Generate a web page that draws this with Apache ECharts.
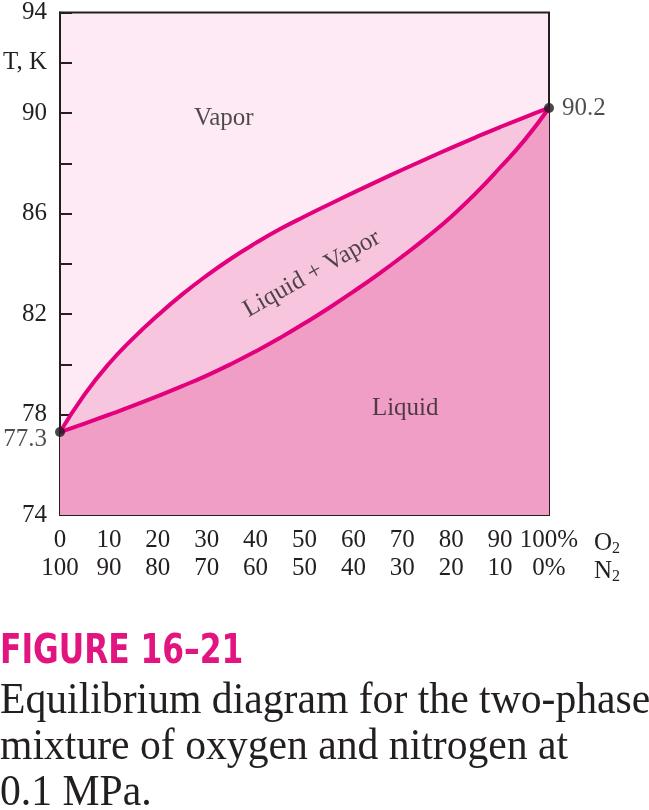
<!DOCTYPE html>
<html><head><meta charset="utf-8">
<script src="https://cdn.jsdelivr.net/npm/echarts@6/dist/echarts.min.js"></script>
<style>html,body{margin:0;padding:0;background:#fff}#c{width:649px;height:810px}</style>
</head><body><div id="c"></div>
<script>
// Composition, % O2 (same grid for both curves)
const compX = [0, 5, 10, 15, 20, 25, 30, 35, 40, 45, 50, 55, 60, 65, 70, 75, 80, 85, 90, 95, 100];
// Dew (vapor) line T, K
const dewT = [77.3, 78.79, 80.02, 81.04, 81.95, 82.78, 83.53, 84.21, 84.82, 85.38, 85.88, 86.36, 86.83, 87.29, 87.74, 88.18, 88.61, 89.03, 89.44, 89.83, 90.2];
// Bubble (liquid) line T, K
const bubT = [77.3, 77.64, 77.99, 78.35, 78.73, 79.13, 79.55, 80.01, 80.51, 81.05, 81.63, 82.24, 82.89, 83.57, 84.29, 85.05, 85.87, 86.8, 87.83, 88.92, 90.2];
// Pure-component boiling points
const endX = [0, 100];
const endT = [77.3, 90.2];
const endLabels = ['77.3', '90.2'];
// Region labels
const regionNames = ['Vapor', 'Liquid + Vapor', 'Liquid'];
const regionX = [33.5, 51.5, 70.6];
const regionT = [89.8, 83.6, 78.25];
// Axis ticks
const yMin = 74, yMax = 94, yStep = 2;
const yLabelled = [94, 90, 86, 82, 78, 74];
const yNameValue = 92, yName = 'T, K';
const xMin = 0, xMax = 100, xStep = 10;

const serif = '"Liberation Serif", "DejaVu Serif", serif';
const C_LINE = '#e3007d', C_VAPOR = '#fdeaf4', C_TWO = '#f8c5de', C_LIQ = '#f09ec5';
const FS = 25;

const chart = echarts.init(document.getElementById('c'));
const z = (xs, ys) => xs.map((x, i) => [x, ys[i]]);
chart.setOption({
  animation: false,
  grid: { left: 60, right: 100, top: 10, bottom: 295, show: true, backgroundColor: C_VAPOR, borderColor: '#231f20', borderWidth: 2 },
  xAxis: {
    type: 'value', min: xMin, max: xMax, interval: xStep,
    axisLine: { lineStyle: { color: '#231f20', width: 2 } },
    axisTick: { inside: true, length: 12, lineStyle: { color: '#231f20', width: 2 } },
    splitLine: { show: false },
    axisLabel: {
      margin: 11, color: '#231f20', fontFamily: serif, fontSize: FS, lineHeight: 28,
      formatter: v => v === 100 ? '100%\n0%' : v + '\n' + (100 - v)
    }
  },
  yAxis: {
    type: 'value', min: yMin, max: yMax, interval: yStep,
    axisLine: { lineStyle: { color: '#231f20', width: 2 } },
    axisTick: { inside: true, length: 12, lineStyle: { color: '#231f20', width: 2 } },
    splitLine: { show: false },
    axisLabel: {
      margin: 13, color: '#231f20', fontFamily: serif, fontSize: FS,
      formatter: v => v === yNameValue ? yName : (yLabelled.includes(v) ? String(v) : '')
    }
  },
  series: [
    { type: 'line', data: z(compX, dewT), smooth: 0.5, symbol: 'none', z: 2,
      lineStyle: { color: C_LINE, width: 4 }, areaStyle: { color: C_TWO, opacity: 1, origin: 'start' } },
    { type: 'line', data: z(compX, bubT), smooth: 0.5, symbol: 'none', z: 3,
      lineStyle: { color: C_LINE, width: 4 }, areaStyle: { color: C_LIQ, opacity: 1, origin: 'start' } },
    { type: 'scatter', symbolSize: 10, z: 5, clip: false,
      data: z(endX, endT).map((d, i) => ({ value: d,
        label: { position: i === 0 ? 'left' : 'right', distance: 8 } })),
      itemStyle: { color: '#1a1a1a' },
      label: { show: true, color: '#231f20', fontFamily: serif, fontSize: FS,
        formatter: p => endLabels[p.dataIndex] },
      labelLayout: p => p.dataIndex === 0 ? { dy: 7 } : {},
      emphasis: { disabled: true }
    },
    { type: 'scatter', data: regionX.map((x, i) => ({ value: [x, regionT[i]],
        label: { rotate: i === 1 ? 29.5 : 0 } })),
      symbolSize: 0, z: 6,
      label: { show: true, position: 'inside', color: '#231f20', fontFamily: serif, fontSize: FS,
        formatter: p => regionNames[p.dataIndex] },
      emphasis: { disabled: true }
    }
  ]
});

const corner = chart.convertToPixel({ gridIndex: 0 }, [xMax, yMin]);
chart.setOption({
  graphic: [
    { type: 'text', left: corner[0] + 45, top: corner[1] + 12, style: {
      text: '{a|O}{s|2}\n{a|N}{s|2}', fill: '#231f20',
      rich: { a: { fontFamily: serif, fontSize: FS, lineHeight: 28, verticalAlign: 'middle' },
              s: { fontFamily: serif, fontSize: 16, lineHeight: 28, verticalAlign: 'bottom', padding: [14, 0, 0, 0] } } } },
    { type: 'text', left: 0, top: 633, scaleX: 0.87, style: {
      text: 'FIGURE 16–21', fill: '#e2147f', font: 'bold 40px "Liberation Sans Narrow", "DejaVu Sans Condensed", "Liberation Sans", sans-serif' } },
    { type: 'text', left: 0, top: 678, scaleX: 0.947, style: {
      text: 'Equilibrium diagram for the two-phase\nmixture of oxygen and nitrogen at\n0.1 MPa.',
      fill: '#231f20', font: '44px ' + serif, lineHeight: 46 } }
  ]
});
</script></body></html>
